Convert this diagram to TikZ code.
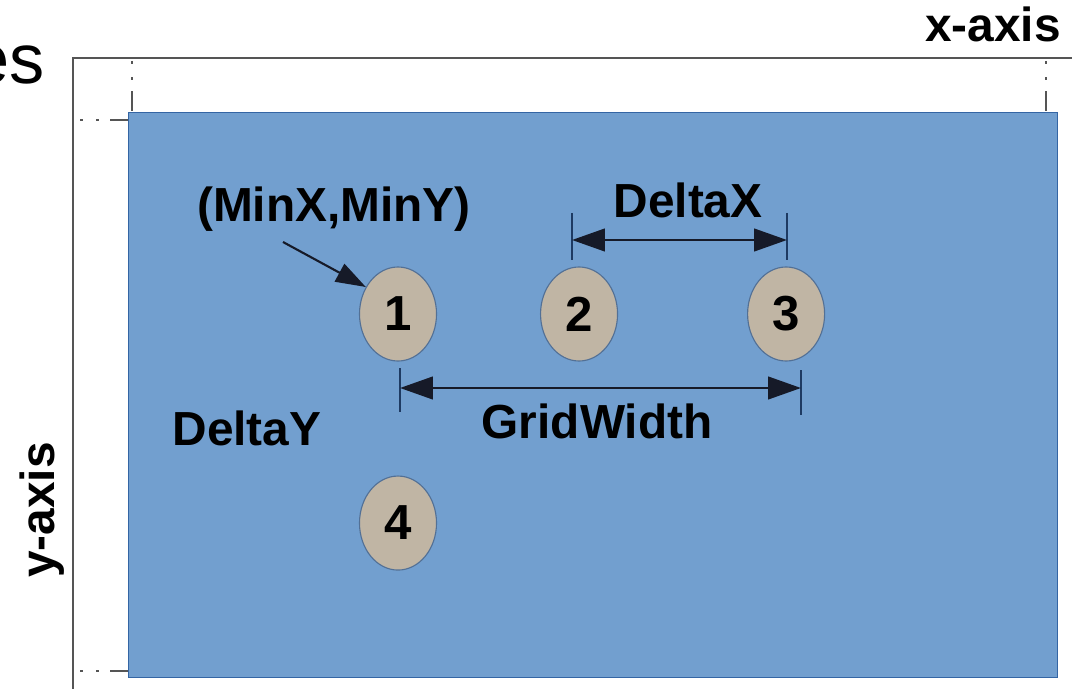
\documentclass[tikz,border=0pt]{standalone}
\usepackage{fontspec}
\setmainfont{Liberation Sans}
\usetikzlibrary{shapes,arrows.meta,positioning}

\definecolor{sheet}{HTML}{729FCF}
\definecolor{sheetedge}{HTML}{3465A4}
\definecolor{ptfill}{RGB}{192,181,164}
\definecolor{ptedge}{RGB}{82,112,150}
\definecolor{dimline}{RGB}{22,26,40}
\definecolor{dimtick}{RGB}{30,58,98}
\definecolor{axisgray}{RGB}{85,85,85}

\tikzstyle{point} = [ellipse, draw=ptedge, fill=ptfill, line width=0.8pt,
    inner sep=0pt, minimum width=1.925cm, minimum height=2.35cm,
    font=\bfseries\fontsize{35}{40}\selectfont]
\tikzstyle{tag} = [inner sep=0pt, anchor=base,
    font=\bfseries\fontsize{34}{40}\selectfont]
\tikzstyle{guide} = [axisgray, line width=1.1pt,
    dash pattern=on 0.075cm off 0.325cm on 0.075cm off 0.275cm on 0.5cm]
\tikzstyle{span} = [dimline, line width=2pt,
    {Triangle[length=0.82cm,width=0.56cm]}-{Triangle[length=0.82cm,width=0.56cm]}]
\tikzstyle{tick} = [dimtick, line width=1.4pt]
\tikzstyle{pointer} = [dimline, line width=1.5pt, -{Triangle[length=0.75cm,width=0.5cm]}]

\begin{document}
\begin{tikzpicture}[x=0.025cm, y=-0.025cm]
  \useasboundingbox (0,0) rectangle (1072,689);
  % Axes and grid area
  \draw[axisgray, line width=1.5pt] (1072,58) -- (73,58) -- (73,689);
  \draw[sheetedge, fill=sheet, line width=0.7pt] (128,112) rectangle (1057,677);
  \draw[guide] (132,61) -- (132,111);
  \draw[guide] (1046,61) -- (1046,111);
  \draw[guide] (80,120) -- (128,120);
  \draw[guide] (80,671) -- (128,671);
  \node[inner sep=0pt, anchor=base east, font=\fontsize{50}{56}\selectfont]
    (caption) at (45,84) {es};
  \node[tag, anchor=base east] (xaxis) at (1061,42) {x-axis};
  \node[tag, rotate=90] (yaxis) at (54,510) {y-axis};
  % Place nodes
  \node[point] (p1) at (398,314) {1};
  \node[point, right of=p1, node distance=4.525cm] (p2) {2};
  \node[point, right of=p2, node distance=5.175cm] (p3) {3};
  \node[point, below of=p1, node distance=5.225cm] (p4) {4};
  \node[tag] (minxy) at (334,222) {(MinX,MinY)};
  \node[tag] (deltax) at (688,218) {DeltaX};
  \node[tag] (gridwidth) at (597,438) {GridWidth};
  \node[tag] (deltay) at (247,445) {DeltaY};
  \coordinate (dxleft) at (572,240);
  \coordinate (dxright) at (787,240);
  \coordinate (gwleft) at (400,388);
  \coordinate (gwright) at (801,388);
  \coordinate (corner) at (283,242);
  % Draw edges
  \draw[tick] (dxleft) ++(0,-27) -- ++(0,47);
  \draw[tick] (dxright) ++(0,-27) -- ++(0,47);
  \draw[span] (dxleft) -- (dxright);
  \draw[tick] (gwleft) ++(0,-20) -- ++(0,44);
  \draw[tick] (gwright) ++(0,-18) -- ++(0,45);
  \draw[span] (gwleft) -- (gwright);
  \draw[pointer] (corner) -- (p1.140);
\end{tikzpicture}
\end{document}
